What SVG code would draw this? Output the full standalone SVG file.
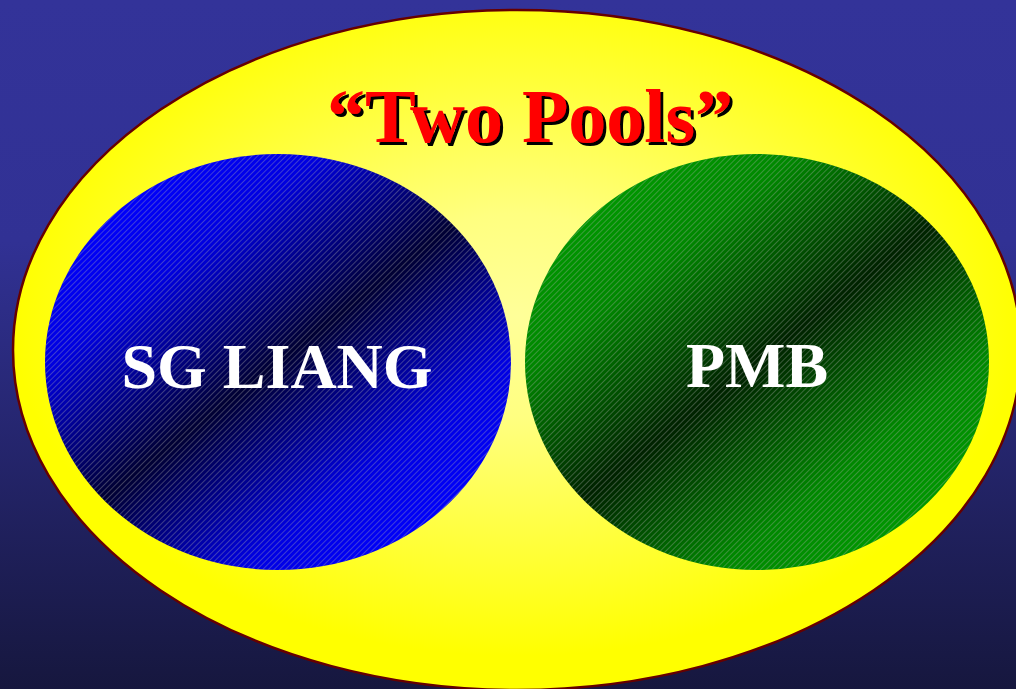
<svg xmlns="http://www.w3.org/2000/svg" width="1016" height="689" viewBox="0 0 1016 689">
<defs>
<linearGradient id="bg" x1="0" y1="0" x2="0" y2="1">
<stop offset="0" stop-color="#333399"/>
<stop offset="0.35" stop-color="#313194"/>
<stop offset="1" stop-color="#16173e"/>
</linearGradient>
<radialGradient id="yel" cx="0.5" cy="0.45" r="0.5">
<stop offset="0" stop-color="#ffff99"/>
<stop offset="0.3" stop-color="#ffff80"/>
<stop offset="1" stop-color="#ffff00"/>
</radialGradient>
<linearGradient id="blueg" x1="0.15" y1="0.1" x2="0.85" y2="0.9">
<stop offset="0" stop-color="#0000ff"/>
<stop offset="0.2" stop-color="#0000e0"/>
<stop offset="0.5" stop-color="#000033"/>
<stop offset="0.8" stop-color="#0000e0"/>
<stop offset="1" stop-color="#0000ff"/>
</linearGradient>
<linearGradient id="greeng" x1="0.15" y1="0.1" x2="0.85" y2="0.9">
<stop offset="0" stop-color="#009900"/>
<stop offset="0.2" stop-color="#008800"/>
<stop offset="0.5" stop-color="#002200"/>
<stop offset="0.8" stop-color="#008800"/>
<stop offset="1" stop-color="#009900"/>
</linearGradient>
<pattern id="hatch" width="4" height="4" patternUnits="userSpaceOnUse" patternTransform="rotate(-45)">
<line x1="0" y1="0.5" x2="4" y2="0.5" stroke="#b0b0b0" stroke-opacity="0.5" stroke-width="0.7"/>
</pattern>
<filter id="shadow" x="-5%" y="-10%" width="110%" height="130%">
<feOffset in="SourceAlpha" dx="3" dy="3" result="off"/>
<feFlood flood-color="#000000"/>
<feComposite in2="off" operator="in" result="sh"/>
<feMerge><feMergeNode in="sh"/><feMergeNode in="SourceGraphic"/></feMerge>
</filter>
<style>
.lbl{font-family:"Liberation Serif","Times New Roman",serif;font-weight:bold;text-anchor:middle;}
.node{fill:#ffffff;font-size:64px;}
.title{font-size:76px;fill:#ff0000;}
</style>
</defs>
<rect width="1016" height="689" fill="url(#bg)"/>
<g id="pool-container">
<ellipse cx="517" cy="350" rx="504" ry="340" fill="url(#yel)" stroke="#660000" stroke-width="2.5"/>
</g>
<g id="title">
<text class="lbl title" x="530" y="142" filter="url(#shadow)">“Two Pools”</text>
</g>
<g id="sg-liang">
<ellipse cx="278" cy="362" rx="233" ry="208" fill="url(#blueg)"/>
<ellipse cx="278" cy="362" rx="233" ry="208" fill="url(#hatch)"/>
<text class="lbl node" x="277" y="388">SG LIANG</text>
</g>
<g id="pmb">
<ellipse cx="757" cy="362" rx="232" ry="208" fill="url(#greeng)"/>
<ellipse cx="757" cy="362" rx="232" ry="208" fill="url(#hatch)"/>
<text class="lbl node" x="757" y="387">PMB</text>
</g>
<g id="connectors"/>
</svg>
